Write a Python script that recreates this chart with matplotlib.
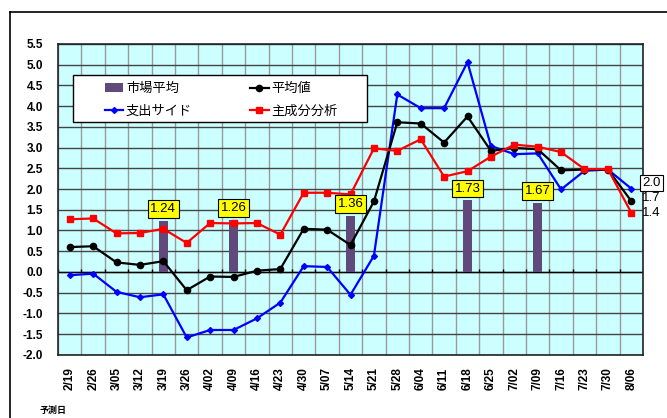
import numpy as np
import matplotlib.pyplot as plt
from matplotlib.lines import Line2D
from matplotlib.patches import Rectangle

plt.rcParams['font.family'] = ['Liberation Sans', 'Noto Sans CJK JP']

# forecast dates
dates = ['2/19', '2/26', '3/05', '3/12', '3/19', '3/26', '4/02', '4/09', '4/16',
         '4/23', '4/30', '5/07', '5/14', '5/21', '5/28', '6/04', '6/11', '6/18',
         '6/25', '7/02', '7/09', '7/16', '7/23', '7/30', '8/06']

# market average (bars) - only on some dates
bar_dates = ['3/19', '4/09', '5/14', '6/18', '7/09']
bar_vals = [1.24, 1.26, 1.36, 1.73, 1.67]

avg_vals = [0.60, 0.62, 0.23, 0.17, 0.26, -0.44, -0.11, -0.12, 0.03, 0.07,
            1.04, 1.02, 0.65, 1.70, 3.61, 3.58, 3.12, 3.75, 2.92, 2.99,
            2.96, 2.45, 2.47, 2.47, 1.71]
spend_vals = [-0.08, -0.04, -0.48, -0.61, -0.54, -1.58, -1.40, -1.40, -1.12, -0.74,
              0.14, 0.12, -0.55, 0.39, 4.28, 3.95, 3.95, 5.06, 3.04, 2.84,
              2.86, 1.99, 2.44, 2.47, 2.01]
pca_vals = [1.27, 1.29, 0.93, 0.94, 1.04, 0.70, 1.18, 1.17, 1.18, 0.90,
            1.91, 1.91, 1.87, 2.98, 2.92, 3.20, 2.30, 2.43, 2.78, 3.07,
            3.02, 2.89, 2.48, 2.48, 1.43]

x = np.arange(len(dates))
bar_x = [dates.index(d) for d in bar_dates]

fig = plt.figure(figsize=(6.67, 4.18), dpi=100)
ax = fig.add_axes([0.087, 0.151, 0.877, 0.744])
ax.set_facecolor('#CCFFFF')

# outer frame lines (top and left)
fig.add_artist(Line2D([10/667, 1.0], [1-12/418, 1-12/418], color='black', lw=1.2))
fig.add_artist(Line2D([10/667, 10/667], [0, 1-12/418], color='black', lw=1.2))

ax.set_xlim(-0.5, len(dates) - 0.5)
ax.set_ylim(-2.0, 5.5)

# grid
yt = np.arange(-2.0, 5.51, 0.5)
ax.set_yticks(yt)
ax.set_yticklabels([f'{v:.1f}' for v in yt])
ax.set_xticks(x)
ax.set_xticklabels(dates, rotation=90)
ax.set_xticks(np.arange(-0.5, len(dates), 1), minor=True)
ax.grid(True, which='minor', axis='x', color='#999999', lw=1.0)
ax.grid(True, which='major', axis='y', color='#444444', lw=1.0)
ax.set_axisbelow(True)
ax.tick_params(axis='both', which='both', length=0)
ax.tick_params(axis='x', pad=9)
ax.tick_params(axis='y', pad=11)
for lab in ax.get_xticklabels() + ax.get_yticklabels():
    lab.set_fontweight('bold')
    lab.set_fontsize(8.5)
for s in ax.spines.values():
    s.set_color('#222222')
    s.set_linewidth(1.2)

# zero axis with small ticks
ax.axhline(0, color='black', lw=1.0, zorder=1)
ax.vlines(np.arange(-0.5, len(dates), 1), 0, 0.08, color='black', lw=1.0, zorder=1)

ax.bar(bar_x, bar_vals, width=0.4, color='#604A7B', zorder=2, label='市場平均')
for bx, bv in zip(bar_x, bar_vals):
    ax.text(bx, bv + 0.28, f'{bv:.2f}', ha='center', va='center', fontsize=9.5,
            bbox=dict(boxstyle='square,pad=0.2', fc='yellow', ec='black', lw=0.8), zorder=6)

ax.plot(x, avg_vals, color='black', lw=1.6, marker='o', ms=4.5, zorder=4, label='平均値')
ax.plot(x, spend_vals, color='blue', lw=1.6, marker='D', ms=3, zorder=3, label='支出サイド')
ax.plot(x, pca_vals, color='red', lw=1.6, marker='s', ms=4.5, zorder=4, label='主成分分析')

# end labels
last = len(dates) - 1
ax.annotate(f'{spend_vals[-1]:.1f}', (last, spend_vals[-1]), xytext=(8, 4), textcoords='offset points',
            fontsize=9.5, va='center', ha='left', annotation_clip=False,
            bbox=dict(boxstyle='square,pad=0.15', fc='white', ec='black', lw=0.8))
ax.annotate(f'{avg_vals[-1]:.1f}', (last, avg_vals[-1]), xytext=(8, 2), textcoords='offset points',
            fontsize=9.5, va='center', ha='left', annotation_clip=False)
ax.annotate(f'{pca_vals[-1]:.1f}', (last, pca_vals[-1]), xytext=(8, 0), textcoords='offset points',
            fontsize=9.5, va='center', ha='left', annotation_clip=False)

# legend frame + legend
ax.add_patch(Rectangle((0.0256, 0.749), 0.5024, 0.151, transform=ax.transAxes,
                       fc='white', ec='black', lw=1.0, zorder=6))
handles, labels = ax.get_legend_handles_labels()
order = [labels.index(l) for l in ['市場平均', '支出サイド', '平均値', '主成分分析']]
leg = ax.legend([handles[i] for i in order], [labels[i] for i in order], ncol=2,
                loc='upper left', bbox_to_anchor=(0.080, 0.874), frameon=False,
                fontsize=9.5, handlelength=1.4, handletextpad=0.2, borderpad=0,
                labelspacing=0.75, columnspacing=4.4, borderaxespad=0)
leg.set_zorder(7)

fig.text(40/667, 1-410/418, '予測日', fontsize=6.5, fontweight='bold', va='center', ha='left')

fig.savefig('out.png', dpi=100)
